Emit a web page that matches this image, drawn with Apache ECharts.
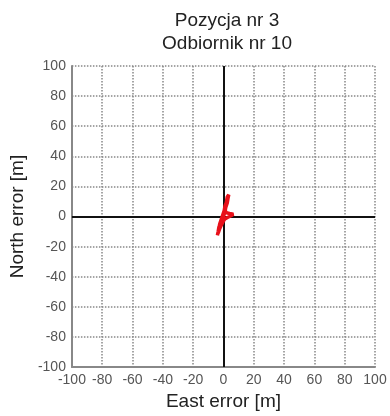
<!DOCTYPE html>
<html><head><meta charset="utf-8">
<script src="https://cdn.jsdelivr.net/npm/echarts@6/dist/echarts.min.js"></script>
<style>html,body{margin:0;padding:0;background:#fff}#c{width:390px;height:416px}</style>
</head><body><div id="c"></div>
<script>
const titleLines = ["Pozycja nr 3", "Odbiornik nr 10"];
const xName = "East error [m]";
const yName = "North error [m]";
const tickValues = [-100, -80, -60, -40, -20, 0, 20, 40, 60, 80, 100];
const eastErr = [-4, -3.5, -2.5, -3, -2, -1, -1.5, -0.5, 0, 0.5, 1, 1.5, 2, 2.5, 3, 3.5, 3, 2.5, 2, 1.5, 1, 2, 4, 6.5, 5, 3, 1, 0, -0.5, -1.5, -2, -2.5, -3, -3.5, -2.5, -1.5, -0.5, 0, 1, 1.5, 2.5, 3, 2, 1, 0.5, -0.5, -1.5, -2.5, -3, -2, -1, 0, 1, 2];
const northErr = [-12.5, -10, -9, -7, -6, -4, -2, -1, 1, 3, 4, 6, 8, 10, 12, 14.5, 15, 13, 10, 7, 4, 2.5, 2, 1.5, 0.5, -0.5, -1.5, -3, -4, -6, -7, -8, -9, -11, -8, -5, -2, 0, 3, 6, 9, 12, 11, 7, 4, 1, -2, -5, -8, -6, -3, 1, 5, 8];
const zeroLine = [0];

const chart = echarts.init(document.getElementById('c'));
const font = 'Liberation Sans, Arial, sans-serif';
chart.setOption({
  animation: false,
  title: {
    text: titleLines.join('\n'),
    left: 222, top: 4, textAlign: 'center',
    textStyle: {fontFamily: font, fontSize: 19, fontWeight: 'normal', color: '#222', lineHeight: 23}
  },
  grid: {left: 68, right: 15, top: 66, bottom: 40},
  xAxis: {
    type: 'value', min: -100, max: 100, interval: 20,
    name: xName, nameLocation: 'middle', nameGap: 23,
    nameTextStyle: {fontFamily: font, fontSize: 19, color: '#222'},
    axisLine: {onZero: false, lineStyle: {color: '#888', width: 2}},
    axisTick: {show: false},
    axisLabel: {fontFamily: font, fontSize: 14, color: '#555', margin: 6,
      formatter: v => tickValues.includes(v) ? String(v) : ''},
    splitLine: {show: true, lineStyle: {color: '#888', type: 'dotted', width: 1.5}}
  },
  yAxis: {
    type: 'value', min: -100, max: 100, interval: 20,
    name: yName, nameLocation: 'middle', nameGap: 44,
    nameTextStyle: {fontFamily: font, fontSize: 19, color: '#222'},
    axisLine: {onZero: false, lineStyle: {color: '#888', width: 2}},
    axisTick: {show: false},
    axisLabel: {fontFamily: font, fontSize: 14, color: '#555', margin: 6,
      formatter: v => tickValues.includes(v) ? String(v) : ''},
    splitLine: {show: true, lineStyle: {color: '#888', type: 'dotted', width: 1.5}}
  },
  series: [{
    type: 'line',
    data: eastErr.map((x, i) => [x, northErr[i]]),
    showSymbol: false,
    lineStyle: {color: '#e8101a', width: 3.5},
    z: 3,
    markLine: {
      silent: true, symbol: 'none', label: {show: false},
      lineStyle: {color: '#111', width: 2, type: 'solid'},
      data: [{xAxis: zeroLine[0]}, {yAxis: zeroLine[0]}],
      z: 2
    }
  }]
});
</script></body></html>
